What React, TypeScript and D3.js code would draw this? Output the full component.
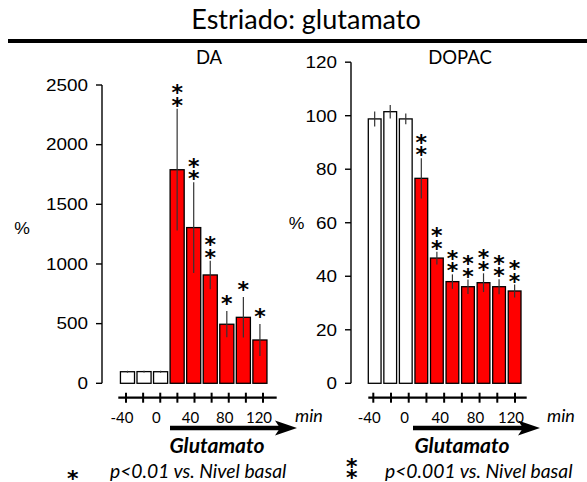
import React from "react";
import * as d3 from "d3";

// ---------- DATA ----------
const daValues = [97, 98, 97, 1790, 1305, 908, 495, 553, 363];
const daErrors = [8, 8, 8, 510, 380, 120, 110, 170, 135];
const daStars = [0, 0, 0, 2, 2, 2, 1, 1, 1];
const daPhase = ["basal", "basal", "basal", "glu", "glu", "glu", "glu", "glu", "glu"];
const daYTicks = [0, 500, 1000, 1500, 2000, 2500];

const dopacValues = [98.8, 101.5, 98.8, 76.6, 46.8, 38, 36.1, 37.6, 36.1, 34.5];
const dopacErrors = [2.8, 2.5, 2, 7.5, 2.4, 2.7, 2.7, 3.5, 2.8, 2.4];
const dopacStars = [0, 0, 0, 2, 2, 2, 2, 2, 2, 2];
const dopacPhase = ["basal", "basal", "basal", "glu", "glu", "glu", "glu", "glu", "glu", "glu"];
const dopacYTicks = [0, 20, 40, 60, 80, 100, 120];

const timeTicks = [-40, -20, 0, 20, 40, 60, 80, 100, 120];
const timeLabels = [-40, 0, 40, 80, 120];

const title = "Estriado: glutamato";
const panelTitles = ["DA", "DOPAC"];
const treatment = "Glutamato";
const legendTexts = ["p<0.01 vs. Nivel basal", "p<0.001 vs. Nivel basal"];

// ---------- LAYOUT ----------
const W = 587;
const H = 482;
const BASE = 383.3;
const CAL = "Lato, 'Open Sans', sans-serif";
const ARIAL = "'Liberation Sans', Arial, sans-serif";
const STARFONT = "'DejaVu Sans', sans-serif";

type PanelCfg = {
  values: number[];
  errors: number[];
  stars: number[];
  phase: string[];
  yTicks: number[];
  yMax: number;
  yTop: number;
  axisX: number;
  barRange: [number, number];
  pad: number;
  timeRange: [number, number];
  axisLine: [number, number];
  title: string;
  titleX: number;
  pctX: number;
  pctY: number;
  minX: number;
  arrow: [number, number];
  glutX: number;
  legend: string;
  legendX: number;
  legendStars: number;
  legendStarX: number;
};

function Star({ x, cy }: { x: number; cy: number }) {
  const fs = 22;
  return (
    <text
      x={x}
      y={cy + fs * 0.55}
      textAnchor="middle"
      fontFamily={STARFONT}
      fontWeight="bold"
      fontSize={fs}
      fill="#000"
    >
      *
    </text>
  );
}

function Panel({ c }: { c: PanelCfg }) {
  const y = d3.scaleLinear().domain([0, c.yMax]).range([BASE, c.yTop]);
  const idx = c.values.map((_, i) => i);
  const x = d3
    .scaleBand<number>()
    .domain(idx)
    .range(c.barRange)
    .paddingInner(c.pad)
    .paddingOuter(c.pad / 2);
  const t = d3.scaleLinear().domain([-40, 120]).range(c.timeRange);
  const bw = x.bandwidth();
  const xAxisY = 397.7;
  const sx = 1.18;

  return (
    <g>
      <text x={c.titleX} y={64} textAnchor="middle" fontFamily={CAL} fontSize={18.5} fill="#000">
        {c.title}
      </text>
      <line x1={c.axisX} x2={c.axisX} y1={y(c.yMax)} y2={y(0)} stroke="#000" strokeWidth={1.4} />
      {c.yTicks.map((v) => (
        <g key={v}>
          <line x1={c.axisX - 6} x2={c.axisX} y1={y(v)} y2={y(v)} stroke="#000" strokeWidth={1.4} />
          <text
            transform={`translate(${c.axisX - 14},${y(v) + 5.8}) scale(${sx},1)`}
            textAnchor="end"
            fontFamily={ARIAL}
            fontSize={16}
            fill="#000"
          >
            {v}
          </text>
        </g>
      ))}
      <text
        transform={`translate(${c.pctX},${c.pctY}) scale(1.1,1)`}
        textAnchor="middle"
        fontFamily={ARIAL}
        fontSize={16}
        fill="#000"
      >
        %
      </text>
      {idx.map((i) => {
        const v = c.values[i];
        const e = c.errors[i];
        const cx = (x(i) as number) + bw / 2;
        const errTop = y(v + e);
        return (
          <g key={i}>
            <rect
              x={x(i)}
              y={y(v)}
              width={bw}
              height={BASE - y(v)}
              fill={c.phase[i] === "basal" ? "#ffffff" : "#ff0000"}
              stroke="#000"
              strokeWidth={1.3}
            />
            <line x1={cx} x2={cx} y1={errTop} y2={y(v - e)} stroke="#333" strokeWidth={1.2} />
            {c.stars[i] === 1 && <Star x={cx} cy={errTop - 12} />}
            {c.stars[i] === 2 && (
              <>
                <Star x={cx} cy={errTop - 8} />
                <Star x={cx} cy={errTop - 20.5} />
              </>
            )}
          </g>
        );
      })}
      <line x1={c.axisLine[0]} x2={c.axisLine[1]} y1={xAxisY} y2={xAxisY} stroke="#000" strokeWidth={2.2} />
      {timeTicks.map((tt) => (
        <line key={tt} x1={t(tt)} x2={t(tt)} y1={xAxisY - 5} y2={xAxisY + 5} stroke="#000" strokeWidth={2} />
      ))}
      {timeLabels.map((tt) => (
        <text key={tt} x={t(tt) - 4} y={423} textAnchor="middle" fontFamily={CAL} fontSize={15} fill="#000">
          {tt}
        </text>
      ))}
      <text x={c.minX} y={422} textAnchor="middle" fontFamily={CAL} fontStyle="italic" fontSize={18} fill="#000">
        min
      </text>
      <line x1={c.arrow[0]} x2={c.arrow[1] - 14} y1={428} y2={428} stroke="#000" strokeWidth={4.5} />
      <path
        d={`M${c.arrow[1]},428 L${c.arrow[1] - 22},420.5 L${c.arrow[1] - 17},428 L${c.arrow[1] - 22},435.5 Z`}
        fill="#000"
      />
      <text
        x={c.glutX}
        y={453}
        textAnchor="middle"
        fontFamily={CAL}
        fontStyle="italic"
        fontWeight="bold"
        fontSize={21}
        fill="#000"
      >
        {treatment}
      </text>
      <text x={c.legendX} y={478} fontFamily={CAL} fontStyle="italic" fontSize={19.3} fill="#000">
        {c.legend}
      </text>
      {c.legendStars === 1 && <Star x={c.legendStarX} cy={474} />}
      {c.legendStars === 2 && (
        <>
          <Star x={c.legendStarX} cy={461.7} />
          <Star x={c.legendStarX} cy={473.3} />
        </>
      )}
    </g>
  );
}

export default function App() {
  const left: PanelCfg = {
    values: daValues,
    errors: daErrors,
    stars: daStars,
    phase: daPhase,
    yTicks: daYTicks,
    yMax: 2500,
    yTop: 85,
    axisX: 102,
    barRange: [119.2, 268.2],
    pad: 0.15,
    timeRange: [126, 263],
    axisLine: [118.3, 276.7],
    title: panelTitles[0],
    titleX: 209,
    pctX: 22,
    pctY: 234,
    minX: 309,
    arrow: [170, 297],
    glutX: 217,
    legend: legendTexts[0],
    legendX: 110,
    legendStars: 1,
    legendStarX: 72.7,
  };
  const right: PanelCfg = {
    values: dopacValues,
    errors: dopacErrors,
    stars: dopacStars,
    phase: dopacPhase,
    yTicks: dopacYTicks,
    yMax: 120,
    yTop: BASE - (BASE - 115.7) * 1.2,
    axisX: 351,
    barRange: [366.9, 522.4],
    pad: 0.18,
    timeRange: [373.3, 515],
    axisLine: [368.3, 526.7],
    title: panelTitles[1],
    titleX: 460,
    pctX: 296.5,
    pctY: 229,
    minX: 561,
    arrow: [413, 540],
    glutX: 462,
    legend: legendTexts[1],
    legendX: 385,
    legendStars: 2,
    legendStarX: 351.7,
  };
  return (
    <svg
      width={W}
      height={H}
      viewBox={`0 0 ${W} ${H}`}
      style={{ position: "absolute", left: 0, top: 0, background: "#fff" }}
    >
      <rect x={0} y={0} width={W} height={H} fill="#fff" />
      <text x={306} y={29} textAnchor="middle" fontFamily={CAL} fontSize={27} fill="#000">
        {title}
      </text>
      <line x1={8} x2={W} y1={41} y2={41} stroke="#000" strokeWidth={4} />
      <Panel c={left} />
      <Panel c={right} />
    </svg>
  );
}
